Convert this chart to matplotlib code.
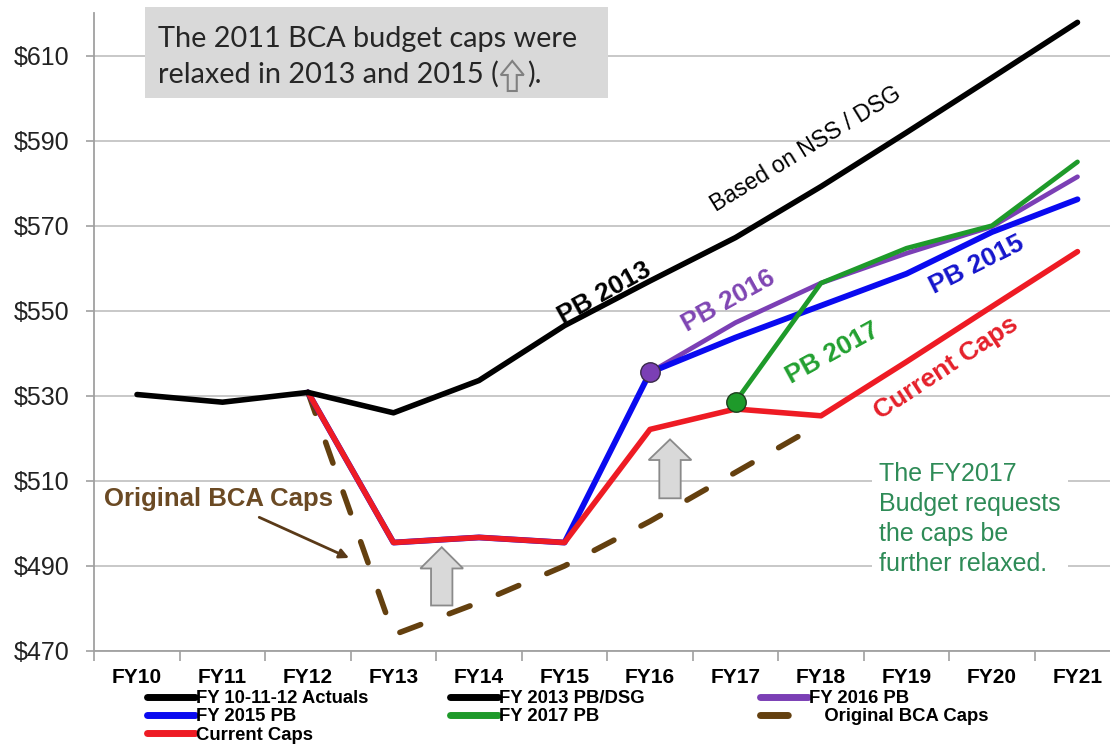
import matplotlib
matplotlib.use('Agg')
import matplotlib.pyplot as plt
from matplotlib.lines import Line2D
from matplotlib.patches import Polygon, Rectangle

plt.rcParams['font.family'] = ['Liberation Sans', 'DejaVu Sans']

W, H, DPI = 1110, 744, 100

# Fiscal years on the category axis
years = ['FY10', 'FY11', 'FY12', 'FY13', 'FY14', 'FY15',
         'FY16', 'FY17', 'FY18', 'FY19', 'FY20', 'FY21']

# $B, read per fiscal year; each series starts at the year noted
actuals = [530.3, 528.5, 530.8]                                                  # FY10-FY12
pb2013 = [530.8, 526.0, 533.6, 546.5, 557.0, 567.2, 579.2, 591.9, 604.8, 617.8]  # FY12-FY21
pb2015 = [530.8, 495.5, 496.7, 495.5, 535.5, 543.7, 551.2, 558.7, 568.5, 576.2]  # FY12-FY21
pb2016 = [535.5, 547.2, 556.5, 563.5, 569.8, 581.5]                              # FY16-FY21
pb2017 = [528.6, 556.5, 564.7, 570.0, 585.0]                                     # FY17-FY21
current_caps = [530.8, 495.5, 496.7, 495.5, 522.1, 526.9, 525.3, 538.0, 551.0, 563.9]  # FY12-FY21
original_caps = [530.8, 473.8, 481.4, 490.0, 500.5, 512.0, 523.5]                # FY12-FY18

y_ticks = [470, 490, 510, 530, 550, 570, 590, 610]

BLACK = '#000000'
BLUE = '#0a0af0'
PURPLE = '#7b3fb5'
GREEN = '#1e9a2a'
RED = '#ee1b24'
BROWN = '#64400f'
GRID = '#c4c4c4'
AXIS = '#a0a0a0'


def span(start, values):
    return list(range(start, start + len(values)))


def block_arrow(ax, xc, y0, y1, head_h, shaft_w=0.125, head_w=0.25):
    pts = [(xc - shaft_w, y0), (xc + shaft_w, y0), (xc + shaft_w, y1 - head_h),
           (xc + head_w, y1 - head_h), (xc, y1), (xc - head_w, y1 - head_h),
           (xc - shaft_w, y1 - head_h)]
    ax.add_patch(Polygon(pts, closed=True, facecolor='#d9d9d9',
                         edgecolor='#8a8a8a', lw=1.3, zorder=6))


fig = plt.figure(figsize=(W / DPI, H / DPI), dpi=DPI)
ax = fig.add_axes([94.25 / W, 93 / H, 1026 / W, 638 / H])

i_fy10, i_fy12, i_fy16, i_fy17 = 0, 2, 6, 7
common = dict(solid_capstyle='round', solid_joinstyle='round')

ax.plot(span(i_fy12, original_caps), original_caps, color=BROWN, lw=4,
        dashes=(4, 5.5), dash_capstyle='round', zorder=3)
ax.plot(span(i_fy16, pb2016), pb2016, color=PURPLE, lw=3.4, zorder=4, **common)
ax.plot(span(i_fy12, pb2015), pb2015, color=BLUE, lw=4.2, zorder=5, **common)
ax.plot(span(i_fy17, pb2017), pb2017, color=GREEN, lw=3.4, zorder=6, **common)
ax.plot(span(i_fy12, current_caps), current_caps, color=RED, lw=4, zorder=7, **common)
ax.plot(span(i_fy10, actuals), actuals, color=BLACK, lw=4, zorder=8, **common)
ax.plot(span(i_fy12, pb2013), pb2013, color=BLACK, lw=4, zorder=8, **common)

# markers where the FY2016 and FY2017 requests branch off
ax.plot(i_fy16, pb2016[0], 'o', ms=14, color=PURPLE, mec='#3a2a4a', mew=1, zorder=9)
ax.plot(i_fy17, pb2017[0], 'o', ms=14, color=GREEN, mec='#1d3d1d', mew=1, zorder=9)

ax.set_xlim(-0.5, len(years) - 0.5)
ax.set_ylim(470, 620)
ax.set_xticks(range(len(years)))
ax.set_xticklabels(years, fontsize=15, fontweight='bold')
ax.set_xticks([k + 0.5 for k in range(-1, len(years) - 1)], minor=True)
ax.set_yticks(y_ticks)
ax.set_yticklabels([f'${v}' for v in y_ticks], fontsize=18, color='#222222')
ax.tick_params(axis='x', which='major', length=0, pad=12)
ax.tick_params(axis='x', which='minor', length=7, color=AXIS, width=1.2)
ax.tick_params(axis='y', length=6, color=AXIS, width=1.2, pad=12)
ax.yaxis.grid(True, color=GRID, lw=1.3)
ax.set_axisbelow(True)
for side in ('top', 'right'):
    ax.spines[side].set_visible(False)
for side in ('left', 'bottom'):
    ax.spines[side].set_color(AXIS)
    ax.spines[side].set_linewidth(1.3)

# series labels along the lines
bold = dict(fontsize=19, fontweight='bold', ha='center', va='center',
            rotation_mode='anchor', zorder=10)
ax.text(7.82, 588.0, 'Based on NSS / DSG', fontsize=16.5, rotation=31.6,
        ha='center', va='center', rotation_mode='anchor', zorder=10)
ax.text(5.47, 554.1, 'PB 2013', color=BLACK, rotation=29, **bold)
ax.text(6.92, 552.2, 'PB 2016', color='#7f45b3', rotation=29, **bold)
ax.text(9.82, 560.8, 'PB 2015', color='#1515cc', rotation=26.6, **bold)
ax.text(8.13, 540.1, 'PB 2017', color='#22a030', rotation=28.7, **bold)
ax.text(9.46, 536.6, 'Current Caps', color='#e5202a', rotation=33.4, **bold)

ax.text(0.95, 505.7, 'Original BCA Caps', color='#6b4a24', fontsize=18.5,
        fontweight='bold', ha='center', va='center', zorder=10)
ax.annotate('', xy=(2.51, 491.6), xytext=(1.40, 501.7),
            arrowprops=dict(arrowstyle='-|>', color='#5a3a18', lw=2,
                            mutation_scale=14), zorder=10)

ax.text(8.68, 501.0, 'The FY2017\nBudget requests\nthe caps be\nfurther relaxed.',
        color='#2e8b57', fontsize=18, ha='left', va='center', linespacing=1.32,
        bbox=dict(facecolor='white', edgecolor='none', pad=5), zorder=10)

# the two cap increases
block_arrow(ax, 3.564, 480.7, 494.4, 5.0)
block_arrow(ax, 6.234, 505.9, 519.75, 4.85)

# grey note box, top left
ax.add_patch(Rectangle((145 / W, 1 - 98 / H), 463 / W, 91 / H,
                       transform=fig.transFigure, facecolor='#d9d9d9',
                       edgecolor='none', clip_on=False, zorder=11))
note = dict(fontsize=20.8, color='#262626', family=['Lato', 'DejaVu Sans'],
            va='baseline', ha='left', zorder=12)
fig.text(158 / W, 1 - 47 / H, 'The 2011 BCA budget caps were', **note)
t_pre = fig.text(158 / W, 1 - 83 / H, 'relaxed in 2013 and 2015 (', **note)
fig.canvas.draw()
bb = t_pre.get_window_extent(fig.canvas.get_renderer())
ax0 = bb.x1 + 2
icon = [(ax0 + 7, 1), (ax0 + 16, 1), (ax0 + 16, 17), (ax0 + 23, 17), (ax0 + 11.5, 31),
        (ax0, 17), (ax0 + 7, 17)]
base = H - 92
fig.patches.append(Polygon([(px / W, (base + py) / H) for px, py in icon], closed=True,
                           transform=fig.transFigure, facecolor='#d9d9d9',
                           edgecolor='#808080', lw=1.5, zorder=12))
fig.text((ax0 + 26) / W, 1 - 83 / H, ').', **note)


# legend, three columns below the axis
def handle(color, dashed=False):
    if dashed:
        return Line2D([], [], color=color, lw=5, dashes=(4, 5.5), dash_capstyle='round')
    return Line2D([], [], color=color, lw=5, solid_capstyle='round')


columns = [
    (147, [(handle(BLACK), 'FY 10-11-12 Actuals'), (handle(BLUE), 'FY 2015 PB'),
           (handle(RED), 'Current Caps')]),
    (450, [(handle(BLACK), 'FY 2013 PB/DSG'), (handle(GREEN), 'FY 2017 PB')]),
    (760, [(handle(PURPLE), 'FY 2016 PB'), (handle(BROWN, True), '   Original BCA Caps')]),
]
for x_px, entries in columns:
    fig.legend([h for h, _ in entries], [lbl for _, lbl in entries],
               loc='upper left', bbox_to_anchor=(x_px / W, 1 - 690 / H),
               frameon=False, borderpad=0, borderaxespad=0, labelspacing=0.08,
               handlelength=2.6, handletextpad=0.05,
               prop=dict(size=13.3, weight='bold'))

fig.savefig('out.png', dpi=DPI)
